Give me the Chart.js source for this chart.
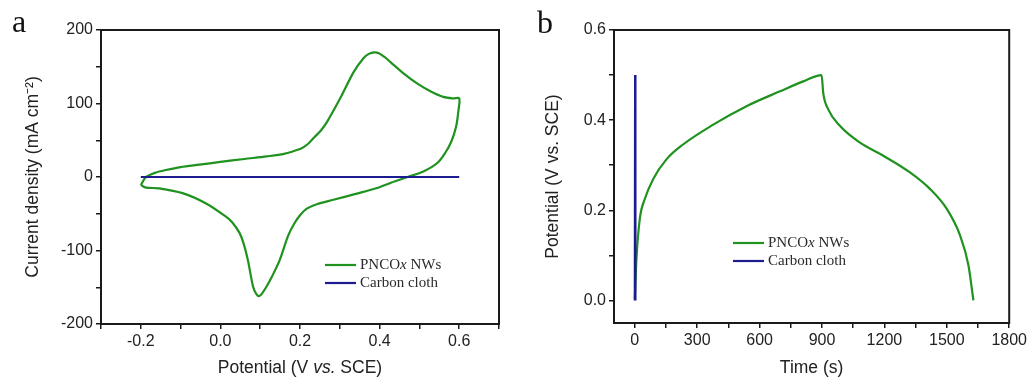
<!DOCTYPE html>
<html><head><meta charset="utf-8">
<script src="https://cdn.jsdelivr.net/npm/chart.js@4/dist/chart.umd.min.js"></script>
<style>
html,body{margin:0;padding:0;background:#fff;}
#wrap{position:relative;width:1030px;height:380px;overflow:hidden;}
.panel{position:absolute;top:0;width:515px;height:380px;}
</style></head><body>
<div id="wrap">
<div class="panel" style="left:0"><canvas id="cv" width="515" height="380"></canvas></div>
<div class="panel" style="left:515px"><canvas id="gcd" width="515" height="380"></canvas></div>
</div>
<script>
// ---------- Data (panel a: CV) ----------
const cvPotential = [-0.200,-0.190,-0.184,-0.163,-0.137,-0.100,-0.053,0.000,0.060,0.116,0.160,0.200,0.210,0.222,0.236,0.252,0.268,0.301,0.335,0.360,0.373,0.386,0.398,0.413,0.428,0.460,0.495,0.530,0.560,0.585,0.600,
  0.598,0.592,0.580,0.565,0.545,0.510,0.470,0.430,0.394,0.340,0.284,0.242,0.217,0.200,0.185,0.170,0.149,0.130,0.116,0.104,0.097,0.090,0.082,0.069,0.058,0.048,0.030,0.014,-0.036,-0.095,-0.154,-0.187,-0.200];
const cvCurrent = [-11,-2,1,6,9.5,13.5,16.8,20.5,24.5,28,31.5,38,41,46,54,63,75,107,143,162,167.5,169.6,168.5,163,156,141,127,116,109,107,107,
  90,68,48,33,19,7.5,0,-7.5,-15,-23,-31,-37,-43,-52,-64,-80,-113,-135,-149,-159,-162,-159,-149,-113,-90,-76,-62,-54,-36,-22,-15.4,-14.5,-11];
const clothCvPotential = [-0.2, 0.0, 0.2, 0.4, 0.6];
const clothCvCurrent = [0, 0, 0, 0, 0];
const cvXTicks = [-0.3,-0.2,-0.1,0.0,0.1,0.2,0.3,0.4,0.5,0.6,0.7];
const cvXLabelled = [-0.2,0.0,0.2,0.4,0.6];
const cvYTicks = [-200,-150,-100,-50,0,50,100,150,200];
const cvYLabelled = [-200,-100,0,100,200];

// ---------- Data (panel b: GCD) ----------
const gcdTime = [0,8,24,48,88,152,232,377,537,698,810,898,906,930,987,1083,1195,1323,1420,1500,1564,1604,1628];
const gcdPotential = [0.004,0.093,0.181,0.225,0.269,0.313,0.346,0.390,0.431,0.464,0.486,0.500,0.460,0.424,0.387,0.350,0.321,0.284,0.247,0.203,0.144,0.078,0.0];
const clothGcdTime = [0, 1.5, 3];
const clothGcdPotential = [0, 0.5, 0];
const gcdXTicks = [0,150,300,450,600,750,900,1050,1200,1350,1500,1650,1800];
const gcdXLabelled = [0,300,600,900,1200,1500,1800];
const gcdYTicks = [0,0.1,0.2,0.3,0.4,0.5,0.6];
const gcdYLabelled = [0,0.2,0.4,0.6];

const seriesNames = ['PNCOx NWs', 'Carbon cloth'];
const legendRich = [[['PNCO',false],['x',true],[' NWs',false]], [['Carbon cloth',false]]];
const cvXTitleRich = [['Potential (V ',false],['vs.',true],[' SCE)',false]];

const GREEN = '#1f921f';
const BLUE = '#1c1c8e';
const AX = '#1a1a1a';
const SANS = "'Liberation Sans', Arial, sans-serif";
const SERIF = "'Liberation Serif', 'Times New Roman', serif";

const zip = (xs, ys) => xs.map((x, i) => ({x, y: ys[i]}));
const has = (arr, v) => arr.some(a => Math.abs(a - v) < 1e-6);

function drawRich(ctx, segs, x, y, size, family, align, color) {
  const fonts = segs.map(s => (s[1] ? 'italic ' : '') + size + 'px ' + family);
  let total = 0;
  const widths = segs.map((s, i) => { ctx.font = fonts[i]; const w = ctx.measureText(s[0]).width; total += w; return w; });
  let cx = align === 'center' ? x - total / 2 : x;
  ctx.textBaseline = 'middle';
  ctx.textAlign = 'left';
  ctx.fillStyle = color;
  segs.forEach((s, i) => { ctx.font = fonts[i]; ctx.fillText(s[0], cx, y); cx += widths[i]; });
}

const decor = {
  id: 'decor',
  afterDraw(chart, args, opts) {
    const ctx = chart.ctx;
    const a = chart.chartArea;
    ctx.save();
    // frame
    ctx.strokeStyle = AX;
    ctx.lineWidth = 2;
    ctx.strokeRect(a.left, a.top, a.right - a.left, a.bottom - a.top);
    // legend
    const L = opts.legend;
    chart.data.datasets.forEach((ds, i) => {
      const y = a.top + L.dy + i * L.gap;
      const x0 = a.left + L.dx;
      ctx.strokeStyle = ds.borderColor;
      ctx.lineWidth = 2.2;
      ctx.beginPath(); ctx.moveTo(x0, y); ctx.lineTo(x0 + 31, y); ctx.stroke();
      drawRich(ctx, legendRich[i], x0 + 35, y, 15, SERIF, 'left', '#2a2a2a');
    });
    // panel letter
    ctx.font = '32px ' + SERIF;
    ctx.fillStyle = '#111';
    ctx.textBaseline = 'alphabetic';
    ctx.textAlign = 'left';
    ctx.fillText(opts.letter.text, opts.letter.x, opts.letter.y);
    // rich x title
    if (opts.xTitle) {
      drawRich(ctx, opts.xTitle, (a.left + a.right) / 2, 368, 17.5, SANS, 'center', '#222');
    }
    ctx.restore();
  }
};

function axisCommon(ticksArr, labelled, fmt) {
  return {
    type: 'linear',
    afterBuildTicks: s => { s.ticks = ticksArr.map(v => ({value: v})); },
    grid: {display: true, drawOnChartArea: false, drawTicks: true, tickLength: 5, color: AX, lineWidth: 1.5},
    border: {display: false},
    ticks: {autoSkip: false, maxRotation: 0, color: '#222', font: {family: SANS, size: 16},
      callback: v => has(labelled, v) ? fmt(v) : ''}
  };
}

// ---------- Chart a ----------
new Chart(document.getElementById('cv'), {
  type: 'scatter',
  data: {datasets: [
    {label: seriesNames[0], data: zip(cvPotential, cvCurrent), borderColor: GREEN, backgroundColor: GREEN, showLine: true, pointRadius: 0, borderWidth: 2.2, tension: 0.3, order: 2},
    {label: seriesNames[1], data: zip(clothCvPotential, clothCvCurrent), borderColor: BLUE, backgroundColor: BLUE, showLine: true, pointRadius: 0, borderWidth: 2.2, tension: 0, order: 1}
  ]},
  options: {
    responsive: false, animation: false,
    layout: {padding: {top: 30, right: 16, left: 0, bottom: 0}},
    plugins: {legend: {display: false}, tooltip: {enabled: false},
      decor: {legend: {dx: 224, dy: 235, gap: 18}, letter: {text: 'a', x: 12, y: 32}, xTitle: cvXTitleRich}},
    scales: {
      x: Object.assign(axisCommon(cvXTicks, cvXLabelled, v => v.toFixed(1)), {
        min: -0.3, max: 0.7,
        afterFit: s => { s.height = 56; },
        title: {display: false}
      }),
      y: Object.assign(axisCommon(cvYTicks, cvYLabelled, v => String(Math.round(v))), {
        min: -200, max: 200,
        afterFit: s => { s.width = 101; },
        title: {display: true, text: 'Current density (mA cm\u207B\u00B2)', color: '#222', font: {family: SANS, size: 17.5}, padding: {top: 22.5, bottom: 0}}
      })
    }
  },
  plugins: [decor]
});

// ---------- Chart b ----------
new Chart(document.getElementById('gcd'), {
  type: 'scatter',
  data: {datasets: [
    {label: seriesNames[0], data: zip(gcdTime, gcdPotential), borderColor: GREEN, backgroundColor: GREEN, showLine: true, pointRadius: 0, borderWidth: 2.2, cubicInterpolationMode: 'monotone', order: 2},
    {label: seriesNames[1], data: zip(clothGcdTime, clothGcdPotential), borderColor: BLUE, backgroundColor: BLUE, showLine: true, pointRadius: 0, borderWidth: 2.2, tension: 0, order: 1}
  ]},
  options: {
    responsive: false, animation: false,
    layout: {padding: {top: 30, right: 20, left: 0, bottom: 0}},
    plugins: {legend: {display: false}, tooltip: {enabled: false},
      decor: {legend: {dx: 119, dy: 213, gap: 18}, letter: {text: 'b', x: 22, y: 33}}},
    scales: {
      x: Object.assign(axisCommon(gcdXTicks, gcdXLabelled, v => String(Math.round(v))), {
        min: -100, max: 1800,
        afterFit: s => { s.height = 57; },
        title: {display: true, text: 'Time (s)', color: '#222', font: {family: SANS, size: 17.5}, padding: {top: 0, bottom: 1.5}}
      }),
      y: Object.assign(axisCommon(gcdYTicks, gcdYLabelled, v => v.toFixed(1)), {
        min: -0.05, max: 0.6,
        afterFit: s => { s.width = 99; },
        title: {display: true, text: 'Potential (V vs. SCE)', color: '#222', font: {family: SANS, size: 17.5}, padding: {top: 27.5, bottom: 0}}
      })
    }
  },
  plugins: [decor]
});
</script>
</body></html>
